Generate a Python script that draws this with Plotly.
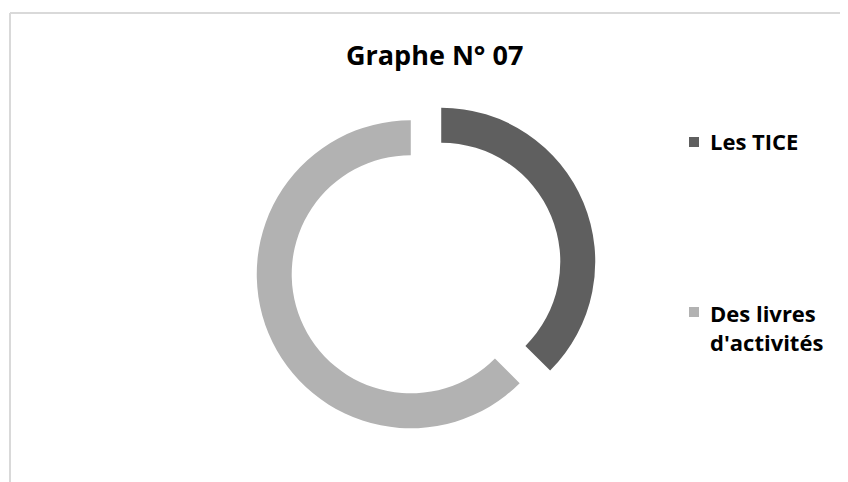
import plotly.graph_objects as go

# Data
labels = ["Les TICE", "Des livres d'activités"]
legend_texts = ["Les TICE", "Des livres<br>d'activités"]
values = [37.5, 62.5]
colors = ["#5f5f5f", "#b2b2b2"]
title_text = "Graphe N° 07"

# The page body has an 8px default margin; size the figure so it fills the window.
OFF = 8
W, H = 848 - OFF, 482 - OFF


def px(x):
    return (x - OFF) / W


def py(y):
    return 1 - (y - OFF) / H


fig = go.Figure()
fig.add_trace(go.Pie(
    labels=labels,
    values=values,
    hole=0.773,
    pull=[0.107, 0.107],
    sort=False,
    direction="clockwise",
    rotation=0,
    marker=dict(colors=colors, line=dict(width=0)),
    textinfo="none",
    hoverinfo="label+percent",
    showlegend=False,
    domain=dict(x=[px(426 - 170.5), px(426 + 170.5)],
                y=[py(268 + 170.5), py(268 - 170.5)]),
))

font_family = "Open Sans, DejaVu Sans, sans-serif"

annotations = [
    dict(text="<b>" + title_text + "</b>", x=px(434.5), y=py(54), xref="paper", yref="paper",
         xanchor="center", yanchor="middle", showarrow=False,
         font=dict(family=font_family, size=27, color="#000000")),
]
shapes = [
    # chart area border (top and left only, as in the crop)
    dict(type="line", xref="paper", yref="paper", x0=px(10), x1=1, y0=py(13), y1=py(13),
         line=dict(color="#d9d9d9", width=2)),
    dict(type="line", xref="paper", yref="paper", x0=px(10), x1=px(10), y0=py(13), y1=0,
         line=dict(color="#d9d9d9", width=2)),
]

legend_y = [141, 327]
for txt, yc in zip(legend_texts, legend_y):
    annotations.append(dict(text="<b>" + txt + "</b>", x=px(708), y=py(yc), xref="paper", yref="paper",
                            xanchor="left", yanchor="middle", align="left", showarrow=False,
                            font=dict(family=font_family, size=22, color="#000000")))
legend_marker_y = [142, 312]
for col, yc in zip(colors, legend_marker_y):
    shapes.append(dict(type="rect", xref="paper", yref="paper",
                       x0=px(689), x1=px(699), y0=py(yc - 5), y1=py(yc + 5),
                       fillcolor=col, line=dict(width=0)))

fig.update_layout(
    width=W, height=H,
    margin=dict(l=0, r=0, t=0, b=0),
    paper_bgcolor="#ffffff",
    plot_bgcolor="#ffffff",
    annotations=annotations,
    shapes=shapes,
    showlegend=False,
)

fig.write_html("out.html")
